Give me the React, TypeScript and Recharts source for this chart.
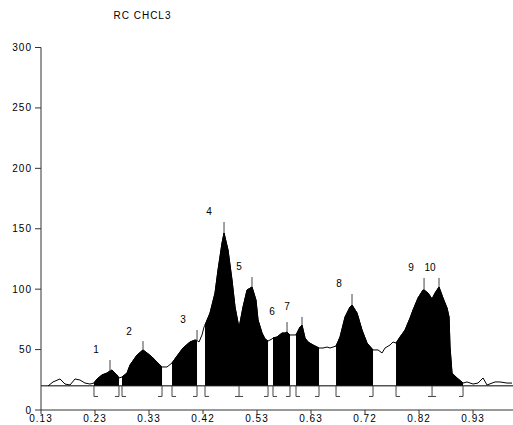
import React from 'react';
import { ComposedChart, Line, Area, XAxis, YAxis, ReferenceLine, Scatter } from 'recharts';

// x positions are in tick-interval units (0 = "0.13", 1 = "0.23", ...)
const tickLabels = ['0.13', '0.23', '0.33', '0.42', '0.53', '0.63', '0.72', '0.82', '0.93'];
const yTicks = [0, 50, 100, 150, 200, 250, 300];

const curveX = [
  0.130, 0.222, 0.352, 0.444, 0.537, 0.630, 0.722, 0.815, 0.907, 0.981,
  1.037, 1.130, 1.222, 1.278, 1.315, 1.370, 1.407, 1.444, 1.500, 1.593,
  1.648, 1.778, 1.889, 1.963, 2.056, 2.148, 2.241, 2.333, 2.426, 2.519,
  2.630, 2.759, 2.852, 2.889, 2.926, 2.981, 3.019, 3.037, 3.130, 3.222,
  3.278, 3.352, 3.389, 3.463, 3.537, 3.593, 3.667, 3.741, 3.815, 3.907,
  3.981, 4.019, 4.093, 4.148, 4.204, 4.278, 4.296, 4.370, 4.463, 4.519,
  4.556, 4.611, 4.722, 4.741, 4.796, 4.833, 4.889, 4.944, 5.037, 5.148,
  5.222, 5.296, 5.352, 5.463, 5.537, 5.630, 5.722, 5.759, 5.852, 5.944,
  6.037, 6.148, 6.241, 6.315, 6.370, 6.463, 6.519, 6.574, 6.648, 6.741,
  6.833, 6.889, 6.981, 7.074, 7.093, 7.167, 7.241, 7.296, 7.370, 7.444,
  7.519, 7.556, 7.574, 7.611, 7.704, 7.815, 7.889, 8.000, 8.093, 8.185,
  8.259, 8.407, 8.500, 8.630, 8.722,
];
const curveY = [
  19.9, 23.2, 25.7, 21.5, 20.7, 25.7, 24.8, 22.3, 21.5, 22.3,
  25.7, 29.0, 30.6, 32.3, 33.1, 30.6, 29.0, 26.5, 27.3, 30.6,
  37.2, 45.5, 49.7, 47.2, 43.9, 39.7, 35.6, 35.6, 38.9, 44.7,
  51.3, 56.3, 57.9, 57.5, 56.3, 62.1, 68.7, 70.3, 80.3, 96.8,
  115.9, 138.2, 146.5, 132.4, 107.6, 85.2, 67.9, 85.2, 99.3, 101.8,
  91.0, 74.5, 63.7, 58.8, 57.1, 58.8, 59.6, 60.4, 63.7, 63.7,
  64.5, 62.1, 62.1, 63.7, 68.7, 70.3, 59.6, 56.3, 53.8, 51.3,
  51.3, 52.1, 51.3, 52.9, 60.4, 77.0, 85.2, 86.9, 80.3, 66.2,
  55.4, 49.7, 49.7, 47.2, 51.3, 53.8, 56.3, 55.4, 60.4, 66.2,
  76.0, 82.8, 92.7, 99.3, 99.3, 96.8, 91.9, 96.8, 101.8, 92.7,
  84.4, 77.0, 52.1, 30.6, 26.5, 22.3, 23.2, 21.5, 22.3, 26.5,
  20.7, 23.2, 23.2, 22.3, 22.3,
];

const baseline = 20;
const segStarts = [0.981, 1.500, 2.426, 3.037, 4.296, 4.722, 5.463, 6.574];
const segEnds = [1.444, 2.241, 2.889, 4.204, 4.611, 5.148, 6.148, 7.815];
const segMids = [3.667, 7.241];

const peakX = [1.278, 1.889, 2.889, 3.389, 3.907, 4.556, 4.833, 5.759, 7.093, 7.370];
const peakY = [32.3, 49.7, 57.5, 146.5, 101.8, 64.5, 70.3, 86.9, 99.3, 101.8];
const peakTop = [41.4, 57.0, 66.2, 155.6, 110.0, 72.8, 77.0, 96.0, 109.3, 109.3];

const labelNames = ['1', '2', '3', '4', '5', '6', '7', '8', '9', '10'];
const labelX = [1.019, 1.630, 2.630, 3.111, 3.667, 4.278, 4.556, 5.519, 6.852, 7.204];
const labelY = [50.3, 64.6, 75.3, 164.4, 118.6, 81.4, 85.5, 104.3, 117.6, 117.6];

const rows = curveX.map((x, i) => {
  const r: any = { x, y: curveY[i] };
  segStarts.forEach((s, k) => {
    if (x >= s - 1e-6 && x <= segEnds[k] + 1e-6) r['s' + k] = curveY[i];
  });
  return r;
});

const labelPts = labelNames.map((n, i) => ({ x: labelX[i], y: labelY[i], name: n }));

const FONT = '"Liberation Sans", Arial, sans-serif';
const bracketBottom = 11.2;
const foot = 0.075;
const gray = '#444';

export default function App() {
  return (
    <div style={{ position: 'absolute', left: 0, top: 0, width: 513, height: 425, background: '#fff' }}>
      <div
        style={{
          position: 'absolute', left: 0, width: 285, top: 10, textAlign: 'center',
          fontFamily: FONT, fontSize: 10, letterSpacing: 1, lineHeight: '12px', color: '#000',
        }}
      >
        RC CHCL3
      </div>
      <ComposedChart
        width={513}
        height={425}
        data={rows}
        margin={{ top: 47.5, right: 0, bottom: 0, left: 0 }}
        style={{ fontFamily: FONT }}
      >
        <XAxis
          type="number"
          dataKey="x"
          domain={[0, 8.74]}
          ticks={[0, 1, 2, 3, 4, 5, 6, 7, 8]}
          tickFormatter={(v: number) => tickLabels[Math.round(v)]}
          allowDataOverflow
          height={15}
          tickSize={4}
          tickMargin={1}
          axisLine={{ stroke: '#333' }}
          tickLine={{ stroke: '#333' }}
          tick={{ fontSize: 10, fill: '#000', letterSpacing: 1 }}
          interval={0}
        />
        <YAxis
          type="number"
          domain={[0, 300]}
          ticks={yTicks}
          width={41}
          tickSize={6}
          tickMargin={3}
          axisLine={{ stroke: '#333' }}
          tickLine={{ stroke: '#333' }}
          tick={{ fontSize: 10, fill: '#000', letterSpacing: 1 }}
          interval={0}
        />
        {segStarts.map((s, k) => (
          <Area
            key={'a' + k}
            type="linear"
            dataKey={'s' + k}
            baseValue={baseline}
            stroke="#000"
            strokeWidth={1}
            fill="#000"
            fillOpacity={1}
            isAnimationActive={false}
            dot={false}
            activeDot={false}
          />
        ))}
        <Line
          type="linear"
          dataKey="y"
          stroke="#000"
          strokeWidth={1}
          dot={false}
          activeDot={false}
          isAnimationActive={false}
        />
        <ReferenceLine y={baseline} stroke="#000" strokeWidth={1} />
        {segStarts.map((s, k) => (
          <ReferenceLine key={'bs' + k} segment={[{ x: s, y: baseline }, { x: s, y: bracketBottom }]} stroke={gray} />
        ))}
        {segStarts.map((s, k) => (
          <ReferenceLine key={'bsf' + k} segment={[{ x: s, y: bracketBottom }, { x: s + foot, y: bracketBottom }]} stroke={gray} />
        ))}
        {segEnds.map((s, k) => (
          <ReferenceLine key={'be' + k} segment={[{ x: s, y: baseline }, { x: s, y: bracketBottom }]} stroke={gray} />
        ))}
        {segEnds.map((s, k) => (
          <ReferenceLine key={'bef' + k} segment={[{ x: s - foot, y: bracketBottom }, { x: s, y: bracketBottom }]} stroke={gray} />
        ))}
        {segMids.map((s, k) => (
          <ReferenceLine key={'bm' + k} segment={[{ x: s, y: baseline }, { x: s, y: bracketBottom }]} stroke={gray} />
        ))}
        {segMids.map((s, k) => (
          <ReferenceLine key={'bmf' + k} segment={[{ x: s - foot, y: bracketBottom }, { x: s + foot, y: bracketBottom }]} stroke={gray} />
        ))}
        {peakX.map((px, k) => (
          <ReferenceLine key={'pk' + k} segment={[{ x: px, y: peakY[k] }, { x: px, y: peakTop[k] }]} stroke={gray} />
        ))}
        <Scatter
          data={labelPts}
          dataKey="y"
          isAnimationActive={false}
          shape={(p: any) => (
            <text
              x={p.cx}
              y={p.cy}
              textAnchor="middle"
              dominantBaseline="central"
              fontSize={10}
              fontFamily={FONT}
              fill="#000"
            >
              {p.payload.name}
            </text>
          )}
        />
      </ComposedChart>
    </div>
  );
}
